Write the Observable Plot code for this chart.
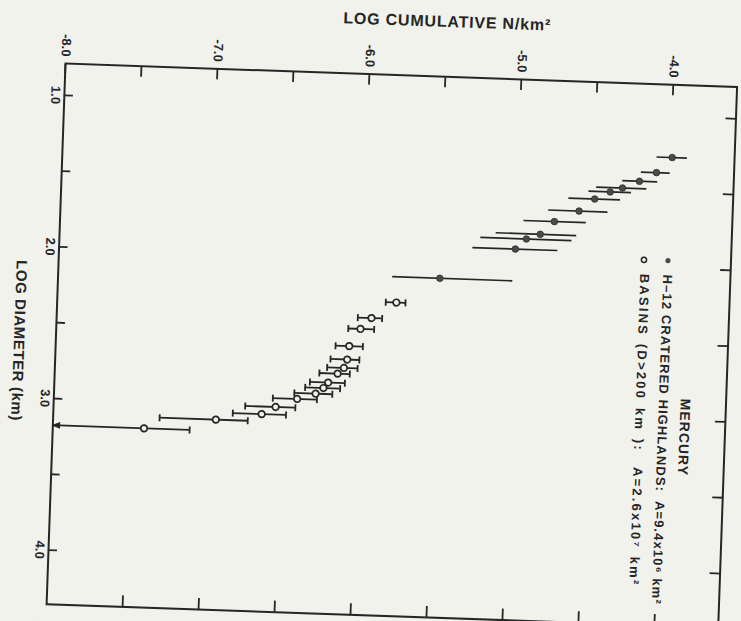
<!DOCTYPE html>
<html>
<head>
<meta charset="utf-8">
<script src="https://cdn.jsdelivr.net/npm/d3@7"></script>
<script src="https://cdn.jsdelivr.net/npm/@observablehq/plot@0.6"></script>
<style>
  html, body { margin: 0; padding: 0; background: #f1f2ec; overflow: hidden; }
  #chart svg { transform: rotate(2deg); transform-origin: 65px 63px; }
</style>
</head>
<body>
<div id="chart"></div>
<script>
// ---- data ----
// H-12 cratered highlands (filled dots)
const highlandsLogD = [1.270, 1.373, 1.434, 1.482, 1.511, 1.561, 1.644, 1.719, 1.806, 1.840, 1.909, 2.119];
const highlandsLogN = [-3.99, -4.09, -4.20, -4.31, -4.39, -4.49, -4.59, -4.75, -4.84, -4.93, -5.00, -5.49];
const highlandsLo   = [-4.09, -4.19, -4.31, -4.48, -4.53, -4.66, -4.79, -4.95, -5.13, -5.23, -5.28, -5.80];
const highlandsHi   = [-3.89, -4.00, -4.08, -4.15, -4.25, -4.32, -4.40, -4.54, -4.60, -4.63, -4.72, -5.01];

// Basins D>200 km (open circles)
const basinsLogD = [2.289, 2.397, 2.471, 2.587, 2.676, 2.732, 2.771, 2.832, 2.869, 2.908, 2.947, 3.005, 3.055, 3.102, 3.176];
const basinsLogN = [-5.77, -5.93, -6.00, -6.07, -6.08, -6.10, -6.14, -6.20, -6.23, -6.28, -6.40, -6.54, -6.63, -6.93, -7.40];
const basinsLo   = [-5.84, -6.02, -6.08, -6.16, -6.19, -6.21, -6.26, -6.32, -6.35, -6.42, -6.56, -6.74, -6.82, -7.30, -8.00];
const basinsHi   = [-5.71, -5.86, -5.91, -5.98, -6.00, -6.01, -6.06, -6.09, -6.12, -6.17, -6.27, -6.41, -6.47, -6.72, -7.10];
const basinsLoUnbounded = [false, false, false, false, false, false, false, false, false, false, false, false, false, false, true];

// axes
const xDomain = [-8.0, -3.58];
const yDomain = [0.79, 4.357];
const xTickValues = [-8.0, -7.5, -7.0, -6.5, -6.0, -5.5, -5.0, -4.5, -4.0];
const xLabelValues = [-8, -7, -6, -5, -4];
const xTickLabels = ["-8.0", "-7.0", "-6.0", "-5.0", "-4.0"];
const yTickValues = [1.0, 1.5, 2.0, 2.5, 3.0, 3.5, 4.0];
const yLabelValues = [1, 2, 3, 4];
const yTickLabels = ["1.0", "2.0", "3.0", "4.0"];
const xTitle = "LOG CUMULATIVE N/km²";
const yTitle = "LOG DIAMETER (km)";
const legendTitle = "MERCURY";
const legendLabels = ["H\u201312 CRATERED HIGHLANDS:  A=9.4x10⁶ km²", "BASINS (D>200 km ):  A=2.6x10⁷ km²"];

// ---- build tables ----
const highlands = highlandsLogD.map((d, i) => ({d, n: highlandsLogN[i], lo: highlandsLo[i], hi: highlandsHi[i]}));
const basins = basinsLogD.map((d, i) => ({d, n: basinsLogN[i], lo: basinsLo[i], hi: basinsHi[i], open: basinsLoUnbounded[i]}));

const ink = "#262626";
const paper = "#f1f2ec";
const font = "'Liberation Sans', Arial, Helvetica, sans-serif";

const capSymbol = {draw(ctx, size) { const h = Math.sqrt(size / Math.PI); ctx.moveTo(0, -h); ctx.lineTo(0, h); }};
const headSymbol = {draw(ctx, size) { const h = Math.sqrt(size / Math.PI); ctx.moveTo(0, 0); ctx.lineTo(2.6 * h, -h); ctx.lineTo(2.6 * h, h); ctx.closePath(); }};

const rot = {rotate: 90, textAnchor: "middle", lineAnchor: "middle", fontWeight: "bold", fill: ink};

const chart = Plot.plot({
  width: 741,
  height: 621,
  marginLeft: 65,
  marginTop: 63,
  marginRight: 4,
  marginBottom: 17,
  style: {background: paper, fontFamily: font, color: ink},
  x: {domain: xDomain, axis: null},
  y: {domain: yDomain, reverse: true, axis: null},
  marks: [
    Plot.frame({stroke: ink, strokeWidth: 2}),
    Plot.axisX(xTickValues, {anchor: "top", tickSize: -10, tickFormat: () => "", label: null, stroke: ink, strokeWidth: 1.8}),
    Plot.axisX(xTickValues.slice(1), {anchor: "bottom", tickSize: -11, tickFormat: () => "", label: null, stroke: ink, strokeWidth: 1.8}),
    Plot.axisY(yTickValues, {anchor: "left", tickSize: -9, tickFormat: () => "", label: null, stroke: ink, strokeWidth: 1.8}),
    Plot.axisY(yTickValues, {anchor: "right", tickSize: -11, tickFormat: () => "", label: null, stroke: ink, strokeWidth: 1.8}),
    Plot.text(xLabelValues, {...rot, x: d => d, frameAnchor: "top", text: (d, i) => xTickLabels[i], textAnchor: "end", dy: -7, fontSize: 13}),
    Plot.text(yLabelValues, {...rot, y: d => d, frameAnchor: "left", text: (d, i) => yTickLabels[i], dx: -9, fontSize: 13}),
    Plot.text([xTitle], {frameAnchor: "top", text: d => d, textAnchor: "middle", lineAnchor: "middle", dx: 44, dy: -55, fontSize: 16, fontWeight: "bold", fill: ink}),
    Plot.text([yTitle], {...rot, frameAnchor: "left", text: d => d, dx: -37, dy: 8, fontSize: 15}),
    // legend
    Plot.text([legendTitle], {...rot, frameAnchor: "top-right", text: d => d, dx: -41, dy: 352, fontSize: 14}),
    Plot.dot([0], {frameAnchor: "top-right", dx: -63, dy: 176, r: 2.6, fill: "#4a4a4a"}),
    Plot.dot([0], {frameAnchor: "top-right", dx: -87, dy: 176, r: 2.6, fill: paper, stroke: ink, strokeWidth: 1.5}),
    Plot.text([legendLabels[0]], {...rot, frameAnchor: "top-right", text: d => d, dx: -63, dy: 190, textAnchor: "start", fontSize: 13}),
    Plot.text([legendLabels[1]], {...rot, frameAnchor: "top-right", text: d => d, dx: -86, dy: 190, textAnchor: "start", fontSize: 13}),
    // highlands
    Plot.ruleY(highlands, {y: "d", x1: "lo", x2: "hi", stroke: ink, strokeWidth: 1.7}),
    Plot.dot(highlands, {x: "n", y: "d", r: 3.3, fill: "#4a4a4a", stroke: "#333", strokeWidth: 0.8}),
    // basins
    Plot.ruleY(basins, {y: "d", x1: "lo", x2: "hi", stroke: ink, strokeWidth: 1.8}),
    Plot.dot(basins.filter(b => !b.open), {x: "lo", y: "d", symbol: capSymbol, r: 3.5, stroke: ink, strokeWidth: 1.8}),
    Plot.dot(basins, {x: "hi", y: "d", symbol: capSymbol, r: 3.5, stroke: ink, strokeWidth: 1.8}),
    Plot.dot(basins.filter(b => b.open), {x: "lo", y: "d", symbol: headSymbol, r: 2.6, fill: ink, stroke: ink, strokeWidth: 1}),
    Plot.dot(basins, {x: "n", y: "d", r: 3.3, fill: paper, stroke: ink, strokeWidth: 1.7})
  ]
});

// letter spacing of the typeset labels
const spacing = new Map([[xTitle, ["0.8px", "0px"]], [yTitle, ["0.6px", "0px"]], [legendTitle, ["1px", "0px"]], [legendLabels[0], ["1.1px", "0px"]], [legendLabels[1], ["2.2px", "2px"]]]);
d3.select(chart).selectAll("text").each(function() {
  const s = spacing.get(this.textContent);
  if (s) { this.style.letterSpacing = s[0]; this.style.wordSpacing = s[1]; }
});
document.getElementById("chart").appendChild(chart);
</script>
</body>
</html>
